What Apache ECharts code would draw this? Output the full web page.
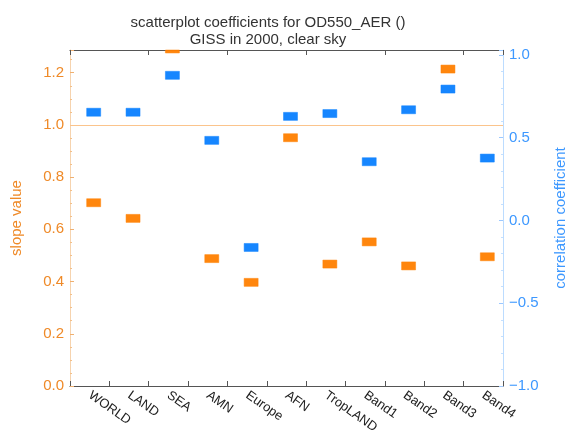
<!DOCTYPE html>
<html>
<head>
<meta charset="utf-8">
<script src="https://cdn.jsdelivr.net/npm/echarts@6/dist/echarts.min.js"></script>
<style>html,body{margin:0;padding:0;background:#fff;overflow:hidden;}#c{width:567px;height:439px;}</style>
</head>
<body>
<div id="c"></div>
<script>
var categories = ['WORLD','LAND','SEA','AMN','Europe','AFN','TropLAND','Band1','Band2','Band3','Band4'];
var slopeValues = [0.702, 0.642, 1.291, 0.488, 0.397, 0.951, 0.467, 0.552, 0.460, 1.214, 0.495];
var corrValues = [0.654, 0.654, 0.877, 0.484, -0.163, 0.629, 0.646, 0.355, 0.669, 0.794, 0.377];
var slopeTicks = [0, 0.2, 0.4, 0.6, 0.8, 1.0, 1.2];
var corrTicks = [-1.0, -0.5, 0.0, 0.5, 1.0];
var refSlope = 1.0;

var ORANGE = '#ff8000', BLUE = '#0a80ff';
var ORANGE_TXT = '#ef8a28', BLUE_TXT = '#3d98ff';
var FONT = 'Liberation Sans';

function rectRenderer(color){
  return function(params, api){
    var p = api.coord([api.value(0), api.value(1)]);
    var w = 14, h = 8;
    var cs = params.coordSys;
    var shape = echarts.graphic.clipRectByRect(
      {x: p[0] - w/2 + 4, y: p[1] - h/2, width: w, height: h},
      {x: cs.x, y: cs.y, width: cs.width, height: cs.height});
    if (!shape) return null;
    return {type: 'rect', shape: shape, style: {fill: color, stroke: color, lineWidth: 0.5, opacity: 0.95}};
  };
}

var chart = echarts.init(document.getElementById('c'), null, {renderer: 'canvas'});
chart.setOption({
  animation: false,
  backgroundColor: '#ffffff',
  textStyle: {fontFamily: FONT},
  title: {
    text: 'scatterplot coefficients for OD550_AER ()\nGISS in 2000, clear sky',
    left: 263, top: 9, textAlign: 'center',
    textStyle: {fontFamily: FONT, fontSize: 15, fontWeight: 'normal', color: '#333', lineHeight: 17}
  },
  grid: {left: 70, right: 64, top: 50, bottom: 53, containLabel: false, outerBoundsMode: 'none'},
  xAxis: [{
    type: 'category', data: categories, position: 'bottom', boundaryGap: true,
    axisLine: {show: true, onZero: false, lineStyle: {color: '#555', width: 1.2}},
    axisTick: {show: true, inside: true, length: 5, lineStyle: {color: '#555', width: 1}},
    axisLabel: {rotate: -35, color: '#222', fontSize: 13, fontFamily: FONT, margin: 8, interval: 0},
    splitLine: {show: false}
  }, {
    type: 'category', data: categories, position: 'top', boundaryGap: true,
    axisLine: {show: true, onZero: false, lineStyle: {color: '#555', width: 1.2}},
    axisTick: {show: true, inside: true, length: 5, lineStyle: {color: '#555', width: 1}},
    axisLabel: {show: false},
    splitLine: {show: false}
  }],
  yAxis: [{
    type: 'value', position: 'left', min: 0, max: 1.287, interval: 0.2,
    name: 'slope value', nameLocation: 'middle', nameRotate: 90, nameGap: 46,
    nameTextStyle: {color: ORANGE_TXT, fontSize: 15, fontFamily: FONT},
    axisLine: {show: true, lineStyle: {color: '#f6d3ae', width: 1}},
    axisTick: {show: true, inside: true, length: 4, lineStyle: {color: '#f0b070'}},
    minorTick: {show: true, splitNumber: 4, length: 2, lineStyle: {color: '#f3c08a'}},
    axisLabel: {color: ORANGE_TXT, fontSize: 15, fontFamily: FONT, margin: 6, showMaxLabel: false,
      formatter: function(v){ return slopeTicks.indexOf(+v.toFixed(2)) >= 0 ? v.toFixed(1) : ''; }},
    splitLine: {show: false}
  }, {
    type: 'value', position: 'right', min: -1, max: 1.03, interval: 0.5,
    name: 'correlation coefficient', nameLocation: 'middle', nameRotate: 90, nameGap: 50,
    nameTextStyle: {color: BLUE_TXT, fontSize: 15, fontFamily: FONT},
    axisLine: {show: true, lineStyle: {color: '#bcdcff', width: 1}},
    axisTick: {show: true, inside: true, length: 4, lineStyle: {color: '#9cc8ff'}},
    minorTick: {show: true, splitNumber: 5, length: 2, lineStyle: {color: '#c4e0ff'}},
    axisLabel: {color: BLUE_TXT, fontSize: 15, fontFamily: FONT, margin: 6, showMaxLabel: false,
      formatter: function(v){
        if (corrTicks.indexOf(+v.toFixed(2)) < 0) return '';
        return (v < 0 ? '\u2212' : '') + Math.abs(v).toFixed(1);
      }},
    splitLine: {show: false}
  }],
  series: [{
    type: 'custom', name: 'slope', xAxisIndex: 0, yAxisIndex: 0,
    data: categories.map(function(c, i){ return [i, slopeValues[i]]; }),
    renderItem: rectRenderer(ORANGE),
    encode: {x: 0, y: 1},
    itemStyle: {color: ORANGE},
    markLine: {
      silent: true, symbol: ['none', 'none'], label: {show: false},
      lineStyle: {color: '#fbc48c', width: 1, type: 'solid', opacity: 1},
      emphasis: {disabled: true},
      data: [{yAxis: refSlope}]
    },
    z: 3
  }, {
    type: 'custom', name: 'corr', xAxisIndex: 0, yAxisIndex: 1,
    data: categories.map(function(c, i){ return [i, corrValues[i]]; }),
    renderItem: rectRenderer(BLUE),
    encode: {x: 0, y: 1},
    itemStyle: {color: BLUE},
    z: 3
  }]
});
</script>
</body>
</html>
